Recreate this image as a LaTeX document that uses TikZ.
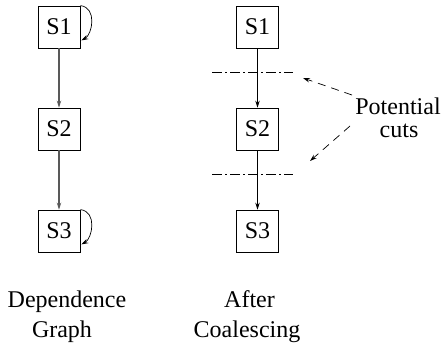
\documentclass[tikz,border=0pt]{standalone}
\usepackage{fontspec}
\setmainfont{Liberation Serif}
\usetikzlibrary{arrows.meta,calc}
\begin{document}
\begin{tikzpicture}[x=1pt,y=-1pt,
  stmt/.style={draw,line width=0.8pt,minimum size=42pt,inner sep=0pt,
    font=\rmfamily\fontsize{24}{24}\selectfont},
  lbl/.style={anchor=base,inner sep=0pt,font=\rmfamily\fontsize{24}{24}\selectfont},
  tip/.style={-{Stealth[length=7pt,width=4.5pt,inset=2.5pt]}},
  dep/.style={tip,line width=1.2pt,black!65},
  flow/.style={tip,line width=0.7pt},
  loop/.style={tip,line width=0.7pt},
  cut/.style={line width=0.7pt,dash pattern=on 10pt off 3pt on 2pt off 3pt},
  hint/.style={tip,line width=0.7pt,dash pattern=on 8pt off 6pt}]
\useasboundingbox (0,0) rectangle (443,345);

% dependence graph
\node[stmt] (a1) at (59,27)  {S1};
\node[stmt] (a2) at (59,129) {S2};
\node[stmt] (a3) at (59,231) {S3};
\draw[dep] (a1) -- (a2);
\draw[dep] (a2) -- (a3);
\draw[loop] (a1.north east) .. controls +(17,2) and +(11,-6) .. ($(a1.south east)+(1,-8)$);
\draw[loop] (a3.north east) .. controls +(17,2) and +(11,-6) .. ($(a3.south east)+(1,-8)$);

% after coalescing
\node[stmt] (b1) at (257.5,27)  {S1};
\node[stmt] (b2) at (257.5,129) {S2};
\node[stmt] (b3) at (257.5,231) {S3};
\draw[flow] (b1) -- (b2);
\draw[flow] (b2) -- (b3);

% cut lines
\coordinate (c1l) at (212,72);  \coordinate (c1r) at (293,72);
\coordinate (c2l) at (212,174); \coordinate (c2r) at (293,174);
\draw[cut] (c1l) -- (c1r);
\draw[cut] (c2l) -- (c2r);

% annotation
\node[lbl] (pot) at (398,114) {Potential};
\node[lbl] (cuts) at (399,137.3) {cuts};
\coordinate (h1s) at (352,95);  \coordinate (h1e) at (303,78);
\coordinate (h2s) at (350,126); \coordinate (h2e) at (310,161);
\draw[hint] (h1s) -- (h1e);
\draw[hint] (h2s) -- (h2e);

% captions
\node[lbl] (dep1) at (67,307)   {Dependence};
\node[lbl] (dep2) at (62,337.3) {Graph};
\node[lbl] (aft1) at (249.5,307) {After};
\node[lbl] (aft2) at (247,337.3) {Coalescing};
\end{tikzpicture}
\end{document}
